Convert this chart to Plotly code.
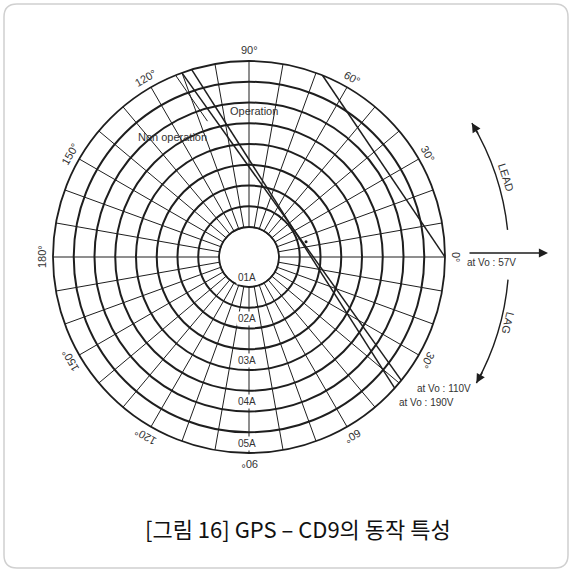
import math
import plotly.graph_objects as go

# ---------------- data ----------------
angle_ticks = [0, 30, 60, 90, 120, 150, 180, 210, 240, 270, 300, 330]
angle_labels = ['0°', '30°', '60°', '90°', '120°', '150°', '180°',
                '150°', '120°', '90°', '60°', '30°']
current_ticks = [0.1, 0.2, 0.3, 0.4, 0.5]
current_labels = ['01A', '02A', '03A', '04A', '05A']

line_57v_r = [0.5, 0.5]
line_57v_theta = [68, 0]
line_110v_r = [0.5, 0.5]
line_110v_theta = [110, 321]
line_190v_r = [0.5, 0.5]
line_190v_theta = [107, 318]
nonop_leader_r = [0.5, 0.37]
nonop_leader_theta = [112, 107]
dot_r = [0.17]
dot_theta = [15]

# ---------------- geometry / style ----------------
W = H = 572
CX, CY, R = 249, 257, 196
HOLE_PX = 30
R_MIN, R_MAX = 0.1, 0.5
INK = '#1e1e1e'
LABEL_FONT = 'Liberation Sans'


def r_to_px(r):
    return HOLE_PX + (r - R_MIN) / (R_MAX - R_MIN) * (R - HOLE_PX)


def pol_px(d, theta):
    t = math.radians(theta)
    return CX + d * math.cos(t), CY - d * math.sin(t)


def paper(x, y):
    return x / W, 1 - y / H


fig = go.Figure()

line_kw = dict(mode='lines', line=dict(color=INK, width=1.5), hoverinfo='skip',
               showlegend=False, cliponaxis=False)
fig.add_trace(go.Scatterpolar(r=line_57v_r, theta=line_57v_theta, **line_kw))
fig.add_trace(go.Scatterpolar(r=line_110v_r, theta=line_110v_theta, **line_kw))
fig.add_trace(go.Scatterpolar(r=line_190v_r, theta=line_190v_theta, **line_kw))
fig.add_trace(go.Scatterpolar(r=nonop_leader_r, theta=nonop_leader_theta,
                              mode='lines', line=dict(color=INK, width=1.0),
                              hoverinfo='skip', showlegend=False, cliponaxis=False))
fig.add_trace(go.Scatterpolar(r=dot_r, theta=dot_theta, mode='markers',
                              marker=dict(color=INK, size=3), hoverinfo='skip',
                              showlegend=False))

annotations = []


def add_text(text, x, y, size, angle=0, bg=None, color='#333', family=LABEL_FONT):
    px_, py_ = paper(x, y)
    a = dict(x=px_, y=py_, xref='paper', yref='paper', text=text, showarrow=False,
             textangle=angle, xanchor='center', yanchor='middle',
             font=dict(family=family, size=size, color=color))
    if bg:
        a['bgcolor'] = bg
        a['borderpad'] = 1
    annotations.append(a)


# angular labels, rotated tangentially
for th, lab in zip(angle_ticks, angle_labels):
    x, y = pol_px(207, th)
    ang = 90 - th
    while ang > 180:
        ang -= 360
    while ang <= -180:
        ang += 360
    add_text(lab, x, y, 11, ang)

# radial labels along the 270° spoke
for rv, lab in zip(current_ticks, current_labels):
    x, y = pol_px(r_to_px(rv) - 10, 270)
    add_text(lab, x - 2, y, 10, 0, bg='white')

texts = [
    ('Operation', 254, 111, 11, 0),
    ('Non operation', 172, 137, 11, 0),
    ('at Vo : 57V', 491, 262, 10, 0),
    ('at Vo : 110V', 444, 388, 10, 0),
    ('at Vo : 190V', 426, 402, 10, 0),
    ('LEAD', 506, 177, 11, 72),
    ('LAG', 508, 323, 11, 104),
]
for t, x, y, s, a in texts:
    add_text(t, x, y, s, a)

shapes = []


def arc_arrow(th0, th1, rad=260):
    x0, y0 = pol_px(rad, th0)
    x1, y1 = pol_px(rad, th1)
    mid = (th0 + th1) / 2
    half = abs(th1 - th0) / 2
    cx, cy = pol_px(rad / math.cos(math.radians(half)), mid)
    p0, pc, p1 = paper(x0, y0), paper(cx, cy), paper(x1, y1)
    shapes.append(dict(type='path', xref='paper', yref='paper',
                       path=f'M {p0[0]},{p0[1]} Q {pc[0]},{pc[1]} {p1[0]},{p1[1]}',
                       line=dict(color=INK, width=1.4)))
    sgn = 1 if th1 > th0 else -1
    t = math.radians(th1)
    dx, dy = -math.sin(t) * sgn, -math.cos(t) * sgn  # screen tangent direction
    annotations.append(dict(x=p1[0], y=p1[1], xref='paper', yref='paper', text='',
                            showarrow=True, arrowhead=2, arrowsize=1.3, arrowwidth=1.4,
                            arrowcolor=INK, ax=-dx * 14, ay=-dy * 14))


arc_arrow(6, 31)
arc_arrow(-5, -29)

# horizontal arrow at 0°
hx, hy = paper(548, 253)
annotations.append(dict(x=hx, y=hy, xref='paper', yref='paper', text='', showarrow=True,
                        arrowhead=2, arrowsize=1.3, arrowwidth=1.4, arrowcolor=INK,
                        ax=-80, ay=0))

# hole circle
shapes.append(dict(type='circle', xref='paper', yref='paper',
                   x0=(CX - HOLE_PX) / W, x1=(CX + HOLE_PX) / W,
                   y0=1 - (CY + HOLE_PX) / H, y1=1 - (CY - HOLE_PX) / H,
                   line=dict(color=INK, width=1.5), layer='below'))

# rounded border
bx0, by0, bx1, by1, rc = 4, 4, 568, 568, 13


def P(x, y):
    a, b = paper(x, y)
    return f'{a},{b}'


path = (f'M {P(bx0 + rc, by0)} L {P(bx1 - rc, by0)} Q {P(bx1, by0)} {P(bx1, by0 + rc)} '
        f'L {P(bx1, by1 - rc)} Q {P(bx1, by1)} {P(bx1 - rc, by1)} '
        f'L {P(bx0 + rc, by1)} Q {P(bx0, by1)} {P(bx0, by1 - rc)} '
        f'L {P(bx0, by0 + rc)} Q {P(bx0, by0)} {P(bx0 + rc, by0)} Z')
shapes.append(dict(type='path', xref='paper', yref='paper', path=path,
                   line=dict(color='#d0d0d0', width=1.5)))

# caption
add_text('[그림 16] GPS – CD9의 동작 특성', 298, 528, 22, 0, color='#111',
         family='Noto Sans CJK KR')

fig.update_layout(
    width=W, height=H, margin=dict(l=0, r=0, t=0, b=0),
    paper_bgcolor='white', plot_bgcolor='white', showlegend=False,
    polar=dict(
        domain=dict(x=[(CX - R) / W, (CX + R) / W], y=[1 - (CY + R) / H, 1 - (CY - R) / H]),
        hole=HOLE_PX / R,
        bgcolor='white',
        radialaxis=dict(range=[R_MIN, R_MAX], tick0=0.1, dtick=0.05,
                        showticklabels=False, ticks='', showline=False,
                        gridcolor=INK, gridwidth=1.5),
        angularaxis=dict(rotation=0, direction='counterclockwise', tickmode='linear',
                         tick0=0, dtick=10, showticklabels=False, ticks='',
                         showline=True, linecolor=INK, linewidth=1.8,
                         gridcolor=INK, gridwidth=1.2),
    ),
    annotations=annotations,
    shapes=shapes,
)

fig.write_html('out.html')
